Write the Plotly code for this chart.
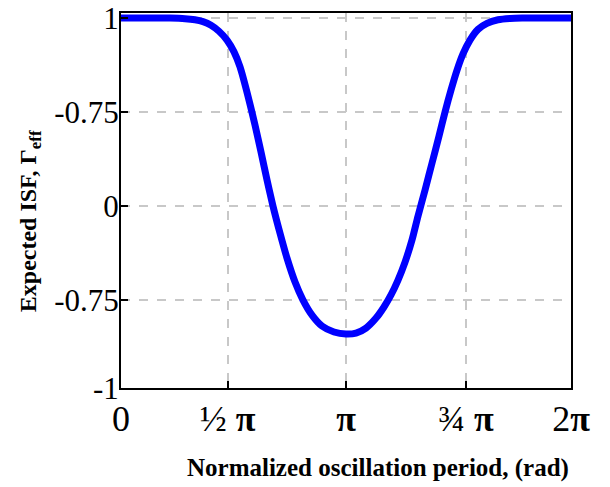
import math
import plotly.graph_objects as go

# Normalized oscillation period (rad)
phase = [0.0, 0.405, 0.684, 0.894, 1.033, 1.145, 1.257, 1.368, 1.480, 1.578,
         1.662, 1.787, 1.871, 1.955, 2.039, 2.122, 2.220, 2.318, 2.430, 2.541,
         2.667, 2.806, 2.974, 3.142, 3.281, 3.421, 3.561, 3.672, 3.770, 3.868,
         3.966, 4.063, 4.147, 4.245, 4.343, 4.440, 4.524, 4.608, 4.692, 4.775,
         4.873, 4.985, 5.110, 5.264, 5.432, 5.600, 5.851, 6.283]
# Expected ISF, Gamma_eff
isf = [1.0, 1.0, 1.0, 0.997, 0.991, 0.981, 0.962, 0.930, 0.883, 0.820,
       0.740, 0.564, 0.431, 0.287, 0.138, 0.0, -0.144, -0.277, -0.404, -0.500,
       -0.580, -0.638, -0.670, -0.681, -0.676, -0.649, -0.596, -0.537, -0.473, -0.394,
       -0.298, -0.181, -0.053, 0.085, 0.229, 0.372, 0.500, 0.617, 0.723, 0.809,
       0.883, 0.940, 0.972, 0.991, 0.998, 1.0, 1.0, 1.0]

x_tickvals = [0.0, 1.487, 3.142, 4.817, 6.283]
x_ticktext = ["0", "½ <b>π</b>", "<b>π</b>", "¾ <b>π</b>", "2<b>π</b>"]
y_tickvals = [1.0, 0.5, 0.0, -0.5, -0.968]
y_ticktext = ["1", "-0.75", "0", "-0.75", "-1"]

x_title = "<b>Normalized oscillation period, (rad)</b>"
y_title = "<b>Expected ISF, Γ<sub>eff</sub></b>"

fig = go.Figure()
fig.add_trace(go.Scatter(
    x=phase, y=isf, mode="lines",
    line=dict(color="#0000ff", width=7, shape="spline", smoothing=0.8),
    showlegend=False, hoverinfo="skip"))

serif = "Liberation Serif, Times New Roman, serif"
fig.update_layout(
    template="none",
    width=610, height=487,
    margin=dict(l=113, r=47, t=5, b=107, autoexpand=False),
    paper_bgcolor="white", plot_bgcolor="white",
    font=dict(family=serif, color="black"),
)
fig.update_xaxes(
    automargin=False,
    range=[0, 2 * math.pi],
    tickvals=x_tickvals, ticktext=x_ticktext,
    tickfont=dict(size=36, family=serif),
    ticks="inside", ticklen=7, tickwidth=2, tickcolor="black",
    ticklabelstandoff=-2, ticklabeloverflow="allow",
    showline=True, linecolor="black", linewidth=2, mirror=True,
    showgrid=True, gridcolor="#c8c8c8", gridwidth=1.5, griddash="dash",
    zeroline=False,
)
fig.update_yaxes(
    automargin=False,
    range=[-0.968, 1.027],
    tickvals=y_tickvals, ticktext=y_ticktext,
    tickfont=dict(size=31, family=serif),
    ticks="inside", ticklen=7, tickwidth=2, tickcolor="black",
    ticklabelstandoff=-6, ticklabeloverflow="allow",
    showline=True, linecolor="black", linewidth=2, mirror=True,
    showgrid=True, gridcolor="#c8c8c8", gridwidth=1.5, griddash="dash",
    zeroline=False,
)
fig.add_annotation(text=x_title, xref="paper", yref="paper",
                   x=0.571, y=-0.213, showarrow=False,
                   xanchor="center", yanchor="middle",
                   font=dict(size=25, family=serif, color="black"))
fig.add_annotation(text=y_title, xref="paper", yref="paper",
                   x=-0.202, y=0.445, showarrow=False, textangle=-90,
                   xanchor="center", yanchor="middle",
                   font=dict(size=24, family=serif, color="black"))
fig.write_html("out.html")
